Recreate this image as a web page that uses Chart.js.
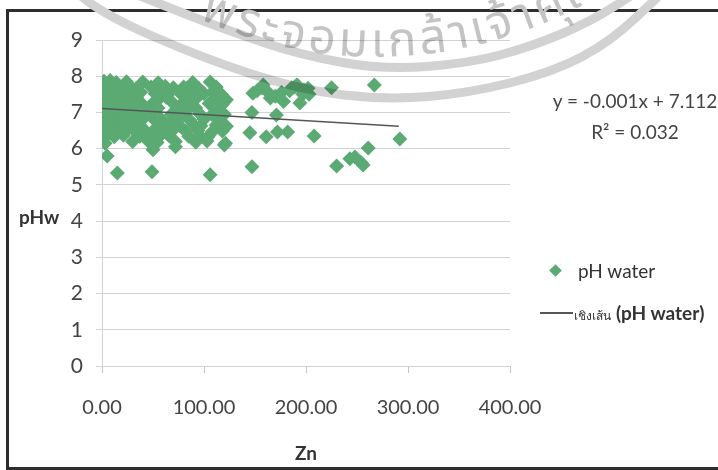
<!DOCTYPE html>
<html>
<head>
<meta charset="utf-8">
<script src="https://cdn.jsdelivr.net/npm/chart.js@4.4.1/dist/chart.umd.min.js"></script>
<style>
  html, body { margin: 0; padding: 0; background: #fff; }
  #wrap { position: relative; width: 718px; height: 470px; overflow: hidden; font-family: Lato, "Open Sans", sans-serif; color: #444; }
  #frame { position: absolute; left: 6px; top: 9px; width: 730px; height: 455px; border: 3px solid #2e2e2e; border-right: none; }
  canvas { position: absolute; left: 0; top: 0; }
  .lbl { position: absolute; white-space: nowrap; }
  #ytitle { left: 19px; top: 205px; font-size: 19px; font-weight: bold; color: #333; }
  #eq { left: 545px; top: 85px; width: 180px; text-align: center; font-size: 19px; line-height: 31px; }
  #leg1 { left: 578px; top: 259px; font-size: 19px; color: #333; }
  #leg1dot { position: absolute; left: 551px; top: 266px; width: 9px; height: 9px; background: #5baa73; transform: rotate(45deg); }
  #leg2line { position: absolute; left: 540px; top: 312px; width: 33px; height: 1.5px; background: #555; }
  #leg2 { left: 574px; top: 301px; font-size: 19px; color: #333; }
  #leg2 small { font-size: 12px; font-weight: normal; }
</style>
</head>
<body>
<div id="wrap">
  <div id="frame"></div>
  <canvas id="chart-canvas" width="718" height="470"></canvas>
  <div class="lbl" id="ytitle">pHw</div>
  <div class="lbl" id="eq">y = -0.001x + 7.112<br>R² = 0.032</div>
  <div id="leg1dot"></div>
  <div class="lbl" id="leg1">pH water</div>
  <div id="leg2line"></div>
  <div class="lbl" id="leg2"><small>เชิงเส้น</small> <b>(pH water)</b></div>
</div>
<script>
// ----- data -----
var xTicks = [0, 100, 200, 300, 400];
var yTicks = [0, 1, 2, 3, 4, 5, 6, 7, 8, 9];

// Zn (x) and pH water (y), point by point
var zn = [
  2, 8, 14, 24, 40, 55, 89, 106,
  0, 5, 12, 18, 28, 33, 48, 62, 70, 80, 95, 112,
  2, 9, 16, 22, 30, 38, 52, 58, 66, 76, 86, 100, 108, 117,
  0, 6, 13, 20, 27, 34, 56, 63, 82, 92, 113, 122,
  3, 10, 17, 25, 40, 50, 70, 78, 88, 105, 118,
  0, 7, 14, 21, 30, 44, 55, 74, 84, 92, 113,
  2, 9, 17, 25, 35, 48, 68, 80, 96, 108, 120,
  0, 6, 13, 20, 29, 40, 52, 58, 72, 86, 100, 115,
  3, 10, 18, 27, 36, 55, 64, 76, 90, 97, 112, 122,
  0, 8, 15, 24, 33, 42, 50, 60, 70, 82, 94, 108, 118,
  4, 12, 21, 37, 47, 56, 66, 85, 96, 104, 121,
  3, 30, 45, 54, 72, 92, 103,
  50, 72, 120,
  5, 15, 49, 106,
  5, 12, 20, 8, 25, 15, 11, 19, 4, 26,
  148, 152, 157, 158, 163, 165, 170, 176, 178, 184, 186, 189, 191, 192, 197, 198, 202, 203, 225, 267,
  147, 171, 194, 145, 161, 172, 182, 208, 292,
  147, 230, 243, 248, 256, 254, 261
];
var ph = [
  7.86, 7.88, 7.83, 7.85, 7.84, 7.82, 7.83, 7.84,
  7.72, 7.68, 7.71, 7.66, 7.7, 7.65, 7.7, 7.72, 7.68, 7.7, 7.66, 7.7,
  7.55, 7.52, 7.57, 7.53, 7.55, 7.56, 7.52, 7.58, 7.54, 7.55, 7.57, 7.52, 7.56, 7.5,
  7.42, 7.38, 7.4, 7.43, 7.37, 7.4, 7.38, 7.42, 7.4, 7.38, 7.35, 7.35,
  7.25, 7.22, 7.27, 7.24, 7.22, 7.26, 7.25, 7.23, 7.27, 7.25, 7.22,
  7.1, 7.12, 7.08, 7.11, 7.1, 7.06, 7.12, 7.1, 7.08, 7.12, 7.07,
  6.95, 6.97, 6.93, 6.96, 6.94, 6.97, 6.95, 6.93, 6.96, 6.94, 6.95,
  6.82, 6.78, 6.8, 6.83, 6.79, 6.81, 6.78, 6.82, 6.8, 6.79, 6.81, 6.8,
  6.66, 6.63, 6.67, 6.64, 6.65, 6.62, 6.66, 6.64, 6.66, 6.63, 6.65, 6.62,
  6.5, 6.48, 6.52, 6.5, 6.47, 6.51, 6.49, 6.5, 6.52, 6.48, 6.5, 6.47, 6.49,
  6.35, 6.33, 6.37, 6.34, 6.36, 6.33, 6.35, 6.34, 6.36, 6.33, 6.15,
  6.15, 6.2, 6.22, 6.17, 6.2, 6.18, 6.21,
  5.97, 6.05, 6.1,
  5.8, 5.33, 5.36, 5.28,
  7.62, 7.32, 7.02, 6.88, 6.58, 6.44, 7.78, 7.18, 7.48, 7.12,
  7.53, 7.6, 7.68, 7.76, 7.55, 7.4, 7.45, 7.55, 7.3, 7.6, 7.68, 7.7, 7.76, 7.74, 7.5, 7.62, 7.67, 7.5, 7.68, 7.76,
  7.0, 6.93, 7.26, 6.44, 6.33, 6.46, 6.46, 6.35, 6.27,
  5.5, 5.52, 5.72, 5.77, 5.55, 5.62, 6.02
];

// Linear trend line as drawn in the picture
var trendZn = [0, 291];
var trendPh = [7.11, 6.62];

var FONT = "Lato, 'Open Sans', sans-serif";

function toPoints(xs, ys) {
  var out = [];
  for (var i = 0; i < xs.length; i++) out.push({ x: xs[i], y: ys[i] });
  return out;
}

// smooth curve through a list of canvas points (used for the seal rings)
function strokeCurve(ctx, pts) {
  ctx.beginPath();
  ctx.moveTo(pts[0][0], pts[0][1]);
  for (var i = 1; i < pts.length - 1; i++) {
    var mx = (pts[i][0] + pts[i + 1][0]) / 2;
    var my = (pts[i][1] + pts[i + 1][1]) / 2;
    ctx.quadraticCurveTo(pts[i][0], pts[i][1], mx, my);
  }
  var last = pts[pts.length - 1];
  ctx.lineTo(last[0], last[1]);
  ctx.stroke();
}

// Faint seal watermark over the top of the chart (grey rings + Thai lettering)
var watermark = {
  id: "watermark",
  afterDatasetsDraw: function(chart) {
    var ctx = chart.ctx;
    ctx.save();
    ctx.globalCompositeOperation = "multiply";
    ctx.strokeStyle = "rgb(210,210,210)";
    ctx.lineWidth = 9;
    ctx.lineCap = "round";
    strokeCurve(ctx, [[125, -10], [180, 12], [227, 30], [300, 55], [385, 70], [470, 63], [530, 47], [590, 22], [640, -10]]);
    strokeCurve(ctx, [[80, -5], [100, 13], [200, 57], [300, 90], [387, 100], [470, 93], [553, 72], [610, 42], [660, -5]]);

    var text = ["พ", "ร", "ะ", "จ", "อ", "ม", "เ", "ก", "ล้", "า", "เ", "จ้", "า", "ค", "ุณ"];
    var cx = 377, cy = -377, r = 424, gap = 3;
    ctx.fillStyle = "rgb(196,196,196)";
    ctx.font = "48px 'Noto Sans Thai', 'Noto Sans', sans-serif";
    ctx.textAlign = "center";
    ctx.textBaseline = "middle";
    // "ม" sits at about x=353
    var s = 353 - cx;
    var idx = text.indexOf("ม");
    for (var k = idx - 1; k >= 0; k--) s -= ctx.measureText(text[k]).width / 2 + ctx.measureText(text[k + 1]).width / 2 + gap;
    for (var i = 0; i < text.length; i++) {
      if (i > 0) s += ctx.measureText(text[i - 1]).width / 2 + ctx.measureText(text[i]).width / 2 + gap;
      var a = s / r;
      ctx.save();
      ctx.translate(cx + r * Math.sin(a), cy + r * Math.cos(a));
      ctx.rotate(-a);
      ctx.fillText(text[i], 0, 0);
      ctx.restore();
    }
    ctx.restore();
  }
};

var ctx = document.getElementById("chart-canvas").getContext("2d");
var chartInstance = new Chart(ctx, {
  type: "scatter",
  data: {
    datasets: [
      {
        label: "pH water",
        data: toPoints(zn, ph),
        pointStyle: "rectRot",
        pointRadius: 7.5,
        pointHoverRadius: 7.5,
        backgroundColor: "#5baa73",
        borderColor: "#5baa73",
        borderWidth: 0,
        order: 2,
      },
      {
        label: "เชิงเส้น (pH water)",
        type: "line",
        data: toPoints(trendZn, trendPh),
        borderColor: "#555",
        borderWidth: 1.5,
        pointRadius: 0,
        fill: false,
        order: 1,
      },
    ],
  },
  options: {
    responsive: false,
    animation: false,
    devicePixelRatio: 1,
    layout: { padding: { left: 0, right: 208, top: 40, bottom: 0 } },
    plugins: {
      legend: { display: false },
      tooltip: { enabled: false },
    },
    scales: {
      x: {
        type: "linear",
        min: 0,
        max: 400,
        afterBuildTicks: function(scale) {
          scale.ticks = xTicks.map(function(v) { return { value: v }; });
        },
        afterFit: function(scale) { scale.height = 104; },
        grid: { drawOnChartArea: false, drawTicks: true, tickLength: 7, color: "#c4c4c4" },
        border: { display: false },
        ticks: {
          padding: 23,
          color: "#444",
          font: { family: FONT, size: 20 },
          callback: function(v) { return Number(v).toFixed(2); },
        },
        title: {
          display: true,
          text: "Zn",
          color: "#333",
          font: { family: FONT, size: 19, weight: "bold" },
          padding: { top: 0, bottom: 5 },
        },
      },
      y: {
        min: 0,
        max: 9,
        afterBuildTicks: function(scale) {
          scale.ticks = yTicks.map(function(v) { return { value: v }; });
        },
        afterFit: function(scale) { scale.width = 102; },
        grid: { color: "#d2d2d2", tickLength: 6 },
        border: { color: "#d2d2d2" },
        ticks: {
          padding: 13,
          color: "#444",
          font: { family: FONT, size: 21 },
        },
      },
    },
  },
  plugins: [watermark],
});
</script>
</body>
</html>
